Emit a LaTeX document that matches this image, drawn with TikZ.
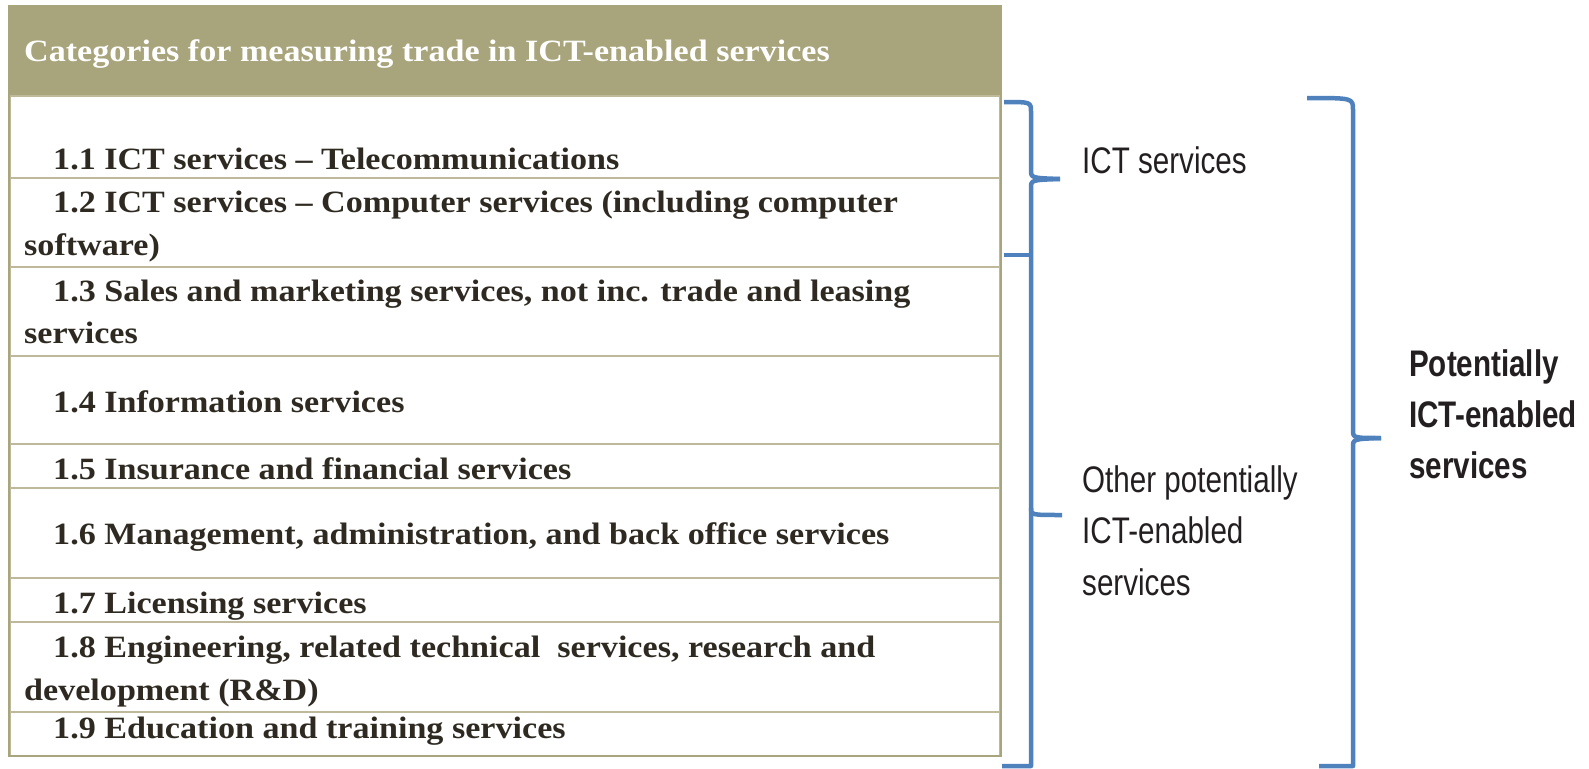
\documentclass[tikz,border=0pt]{standalone}
\usepackage{fontspec}
\setmainfont[FakeStretch=1.1]{Liberation Serif}
\newfontfamily\narrowsans[FakeStretch=0.8]{Liberation Sans}
\definecolor{khaki}{HTML}{A8A47C}
\definecolor{rowline}{HTML}{BDB99A}
\definecolor{bodytext}{HTML}{2E2A22}
\definecolor{bracecol}{HTML}{4F81BD}
\definecolor{sidetext}{HTML}{231F20}
\tikzset{
  rowbox/.style={draw=rowline, line width=2pt},
  celltext/.style={anchor=base west, inner sep=0pt, font=\fontsize{31}{31}\selectfont\bfseries, text=bodytext},
  headtext/.style={anchor=base west, inner sep=0pt, font=\fontsize{31}{31}\selectfont\bfseries, text=white},
  sidelabel/.style={anchor=base west, inner sep=0pt, font=\fontsize{37}{37}\selectfont\narrowsans, text=sidetext},
  sidebold/.style={anchor=base west, inner sep=0pt, font=\fontsize{37}{37}\selectfont\narrowsans\bfseries, text=sidetext},
  brace/.style={draw=bracecol, line width=4.5pt, line join=round}
}
\begin{document}
\begin{tikzpicture}[x=1pt,y=-1pt]
\useasboundingbox (0,0) rectangle (1589,768);
% header
\fill[khaki] (9,6) rectangle (1001,96);
\node[headtext] (head) at (24,62) {Categories for measuring trade in ICT-enabled services};
% rows
\foreach \a/\b in {96/178,178/267,267/356,356/444,444/488,488/578,578/622,622/712,712/756}
  \draw[rowbox] (10,\a) rectangle (1000,\b);
\draw[draw=khaki, line width=2pt] (9,6) rectangle (1001,756);
% texts
\node[celltext] (r1) at (53,169) {1.1 ICT services -- Telecommunications};
\node[celltext] (r2a) at (53,212) {1.2 ICT services -- Computer services (including computer};
\node[celltext] (r2b) at (24,255) {software)};
\node[celltext] (r3a) at (53,301) {1.3 Sales and marketing services, not inc. trade and leasing};
\node[celltext] (r3b) at (24,343) {services};
\node[celltext] (r4) at (53,412) {1.4 Information services};
\node[celltext] (r5) at (53,479) {1.5 Insurance and financial services};
\node[celltext] (r6) at (53,544) {1.6 Management, administration, and back office services};
\node[celltext] (r7) at (53,613) {1.7 Licensing services};
\node[celltext] (r8a) at (53,657) {1.8 Engineering, related technical\ \ services, research and};
\node[celltext] (r8b) at (24,700) {development (R\&D)};
\node[celltext] (r9) at (53,738) {1.9 Education and training services};
% braces
\draw[brace] (1004,102) .. controls (1031,102) .. (1031,112) -- (1031,170)
  .. controls (1031,178) .. (1060,179);
\draw[brace] (1060,179) .. controls (1031,180) .. (1031,188) -- (1031,766) -- (1002,766);
\draw[brace] (1004,255) -- (1031,255);
\draw[brace] (1031,508) .. controls (1031,515) .. (1062,515);
\draw[brace] (1307,98) .. controls (1353,98) .. (1353,110) -- (1353,430)
  .. controls (1353,438) .. (1381,438);
\draw[brace] (1381,438) .. controls (1353,439) .. (1353,447) -- (1353,766) -- (1319,766);
% side labels
\node[sidelabel] (ict) at (1082,173) {ICT services};
\node[sidelabel] (oth1) at (1082,492) {Other potentially};
\node[sidelabel] (oth2) at (1082,543) {ICT-enabled};
\node[sidelabel] (oth3) at (1082,595) {services};
\node[sidebold] (pot1) at (1409,376) {Potentially};
\node[sidebold] (pot2) at (1409,427) {ICT-enabled};
\node[sidebold] (pot3) at (1409,478) {services};
\end{tikzpicture}
\end{document}
